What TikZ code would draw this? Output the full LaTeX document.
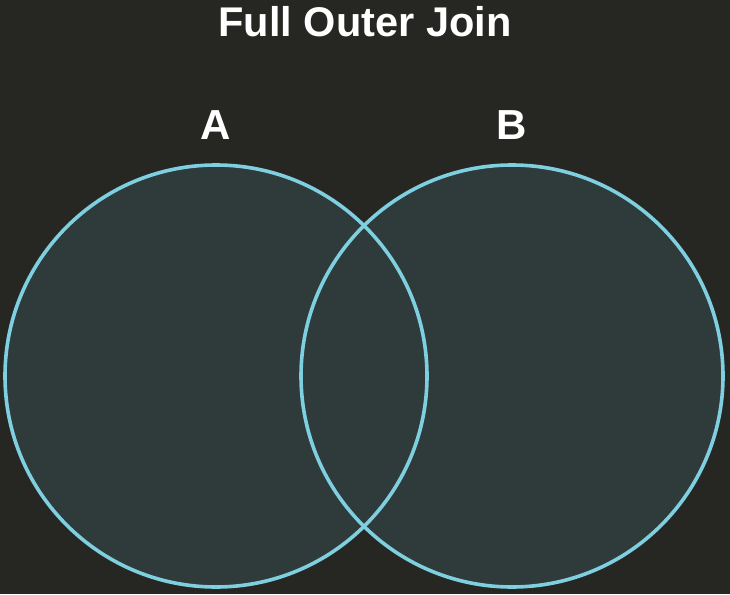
\documentclass[tikz,border=0pt]{standalone}
\usepackage{fontspec}
\setmainfont{Liberation Sans}
\usepackage{tikz}
\usetikzlibrary{positioning}
\definecolor{bgdark}{HTML}{262622}
\definecolor{setfill}{HTML}{2F3A3A}
\definecolor{setrim}{HTML}{7ECFE0}

\tikzset{
    setdisc/.style={circle,minimum size=422pt,inner sep=0pt,fill=setfill},
    setrim/.style={draw=setrim,line width=3.6pt},
    setlabel/.style={anchor=base,text=white,font=\fontsize{42}{42}\selectfont\bfseries}
}

\begin{document}
\begin{tikzpicture}[x=1pt,y=-1pt]
\fill[bgdark] (0,0) rectangle (730,594);
\useasboundingbox (0,0) rectangle (730,594);
\node[setlabel,font=\fontsize{41.5}{42}\selectfont\bfseries] (title) at (365,37) {Full Outer Join};
% the two sets
\node[setdisc] (setA) at (216,376) {};
\node[setdisc] (setB) at (512,376) {};
\draw[setrim] (setA.center) circle[radius=211];
\draw[setrim] (setB.center) circle[radius=211];
\node[setlabel] (labelA) at (216,139) {A};
\node[setlabel] (labelB) at (512,139) {B};
\end{tikzpicture}
\end{document}
